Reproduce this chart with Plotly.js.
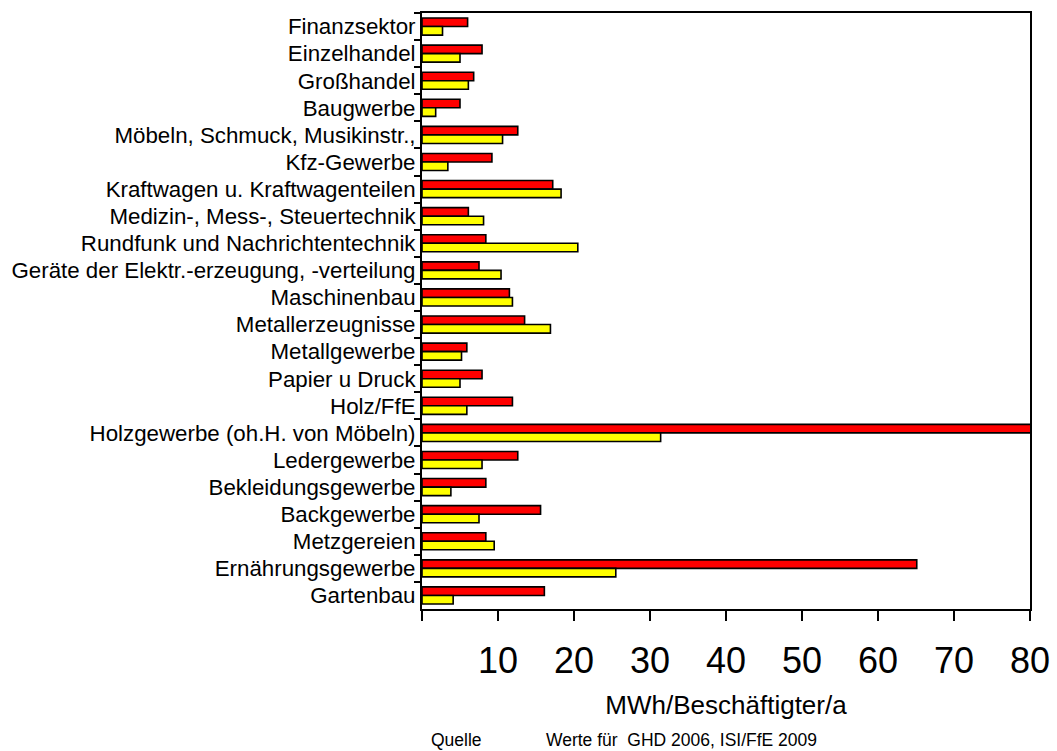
<!DOCTYPE html>
<html>
<head>
<meta charset="utf-8">
<script src="https://cdn.plot.ly/plotly-3.0.1.min.js"></script>
<style>html,body{margin:0;padding:0;background:#fff}#chart{width:1057px;height:751px}</style>
</head>
<body>
<div id="chart"></div>
<script>
const categories = [
  "Finanzsektor", "Einzelhandel", "Großhandel", "Baugwerbe",
  "Möbeln, Schmuck, Musikinstr.,", "Kfz-Gewerbe", "Kraftwagen u. Kraftwagenteilen",
  "Medizin-, Mess-, Steuertechnik", "Rundfunk und Nachrichtentechnik",
  "Geräte der Elektr.-erzeugung, -verteilung", "Maschinenbau", "Metallerzeugnisse",
  "Metallgewerbe", "Papier u Druck", "Holz/FfE", "Holzgewerbe (oh.H. von Möbeln)",
  "Ledergewerbe", "Bekleidungsgewerbe", "Backgewerbe", "Metzgereien",
  "Ernährungsgewerbe", "Gartenbau"
];
const redValues = [6.0, 7.9, 6.8, 5.0, 12.6, 9.2, 17.2, 6.1, 8.4, 7.5, 11.5, 13.5,
                   5.9, 7.9, 11.9, 90, 12.6, 8.4, 15.6, 8.4, 65.1, 16.1];
const yellowValues = [2.7, 5.0, 6.1, 1.8, 10.6, 3.4, 18.3, 8.1, 20.5, 10.4, 11.9, 16.9,
                      5.2, 5.0, 5.9, 31.4, 7.9, 3.8, 7.5, 9.5, 25.5, 4.1];
const xTickVals = [0, 10, 20, 30, 40, 50, 60, 70, 80];
const xTickText = ["", "10", "20", "30", "40", "50", "60", "70", "80"];
const xTitle = "MWh/Beschäftigter/a";
const sourceLabel = "Quelle";
const sourceText = "Werte für  GHD 2006, ISI/FfE 2009";

const FONT = "Liberation Sans, Arial, sans-serif";

const traces = [
  {type: "bar", orientation: "h", y: categories, x: redValues, name: "rot",
   marker: {color: "#FF0000", line: {color: "#000000", width: 1.6}}, hoverinfo: "x+y"},
  {type: "bar", orientation: "h", y: categories, x: yellowValues, name: "gelb",
   marker: {color: "#FFFF00", line: {color: "#000000", width: 1.6}}, hoverinfo: "x+y"}
];

const layout = {
  width: 1057, height: 751,
  margin: {l: 421.5, r: 27, t: 13, b: 141.5, pad: 0},
  paper_bgcolor: "#ffffff", plot_bgcolor: "#ffffff",
  showlegend: false,
  barmode: "group", bargap: 0.37, bargroupgap: 0,
  font: {family: FONT, color: "#000000"},
  xaxis: {
    range: [0, 80], tickmode: "array", tickvals: xTickVals, ticktext: xTickText,
    ticks: "outside", ticklen: 10, tickwidth: 2, tickcolor: "#000",
    showgrid: false, zeroline: false,
    showline: true, linecolor: "#000", linewidth: 2, mirror: true,
    tickfont: {family: FONT, size: 36, color: "#000"},
    ticklabelstandoff: 9,
    title: {text: xTitle, font: {family: FONT, size: 26, color: "#000"}, standoff: 16},
    automargin: false, fixedrange: true
  },
  yaxis: {
    type: "category", categoryorder: "array", categoryarray: categories,
    autorange: "reversed",
    ticks: "outside", ticklen: 6, tickwidth: 2, tickcolor: "#000", tickson: "boundaries",
    showgrid: false, zeroline: false,
    showline: true, linecolor: "#000", linewidth: 2, mirror: true,
    tickfont: {family: FONT, size: 22.3, color: "#000"},
    automargin: false, fixedrange: true
  },
  annotations: [
    {xref: "paper", yref: "paper", x: 0.0107, y: -0.2205, xanchor: "left", yanchor: "middle",
     text: sourceLabel, showarrow: false, font: {family: FONT, size: 17.5, color: "#000"}},
    {xref: "paper", yref: "paper", x: 0.2, y: -0.2205, xanchor: "left", yanchor: "middle",
     text: sourceText, showarrow: false, font: {family: FONT, size: 17.5, color: "#000"}}
  ]
};

Plotly.newPlot("chart", traces, layout, {displayModeBar: false, staticPlot: true});
</script>
</body>
</html>
